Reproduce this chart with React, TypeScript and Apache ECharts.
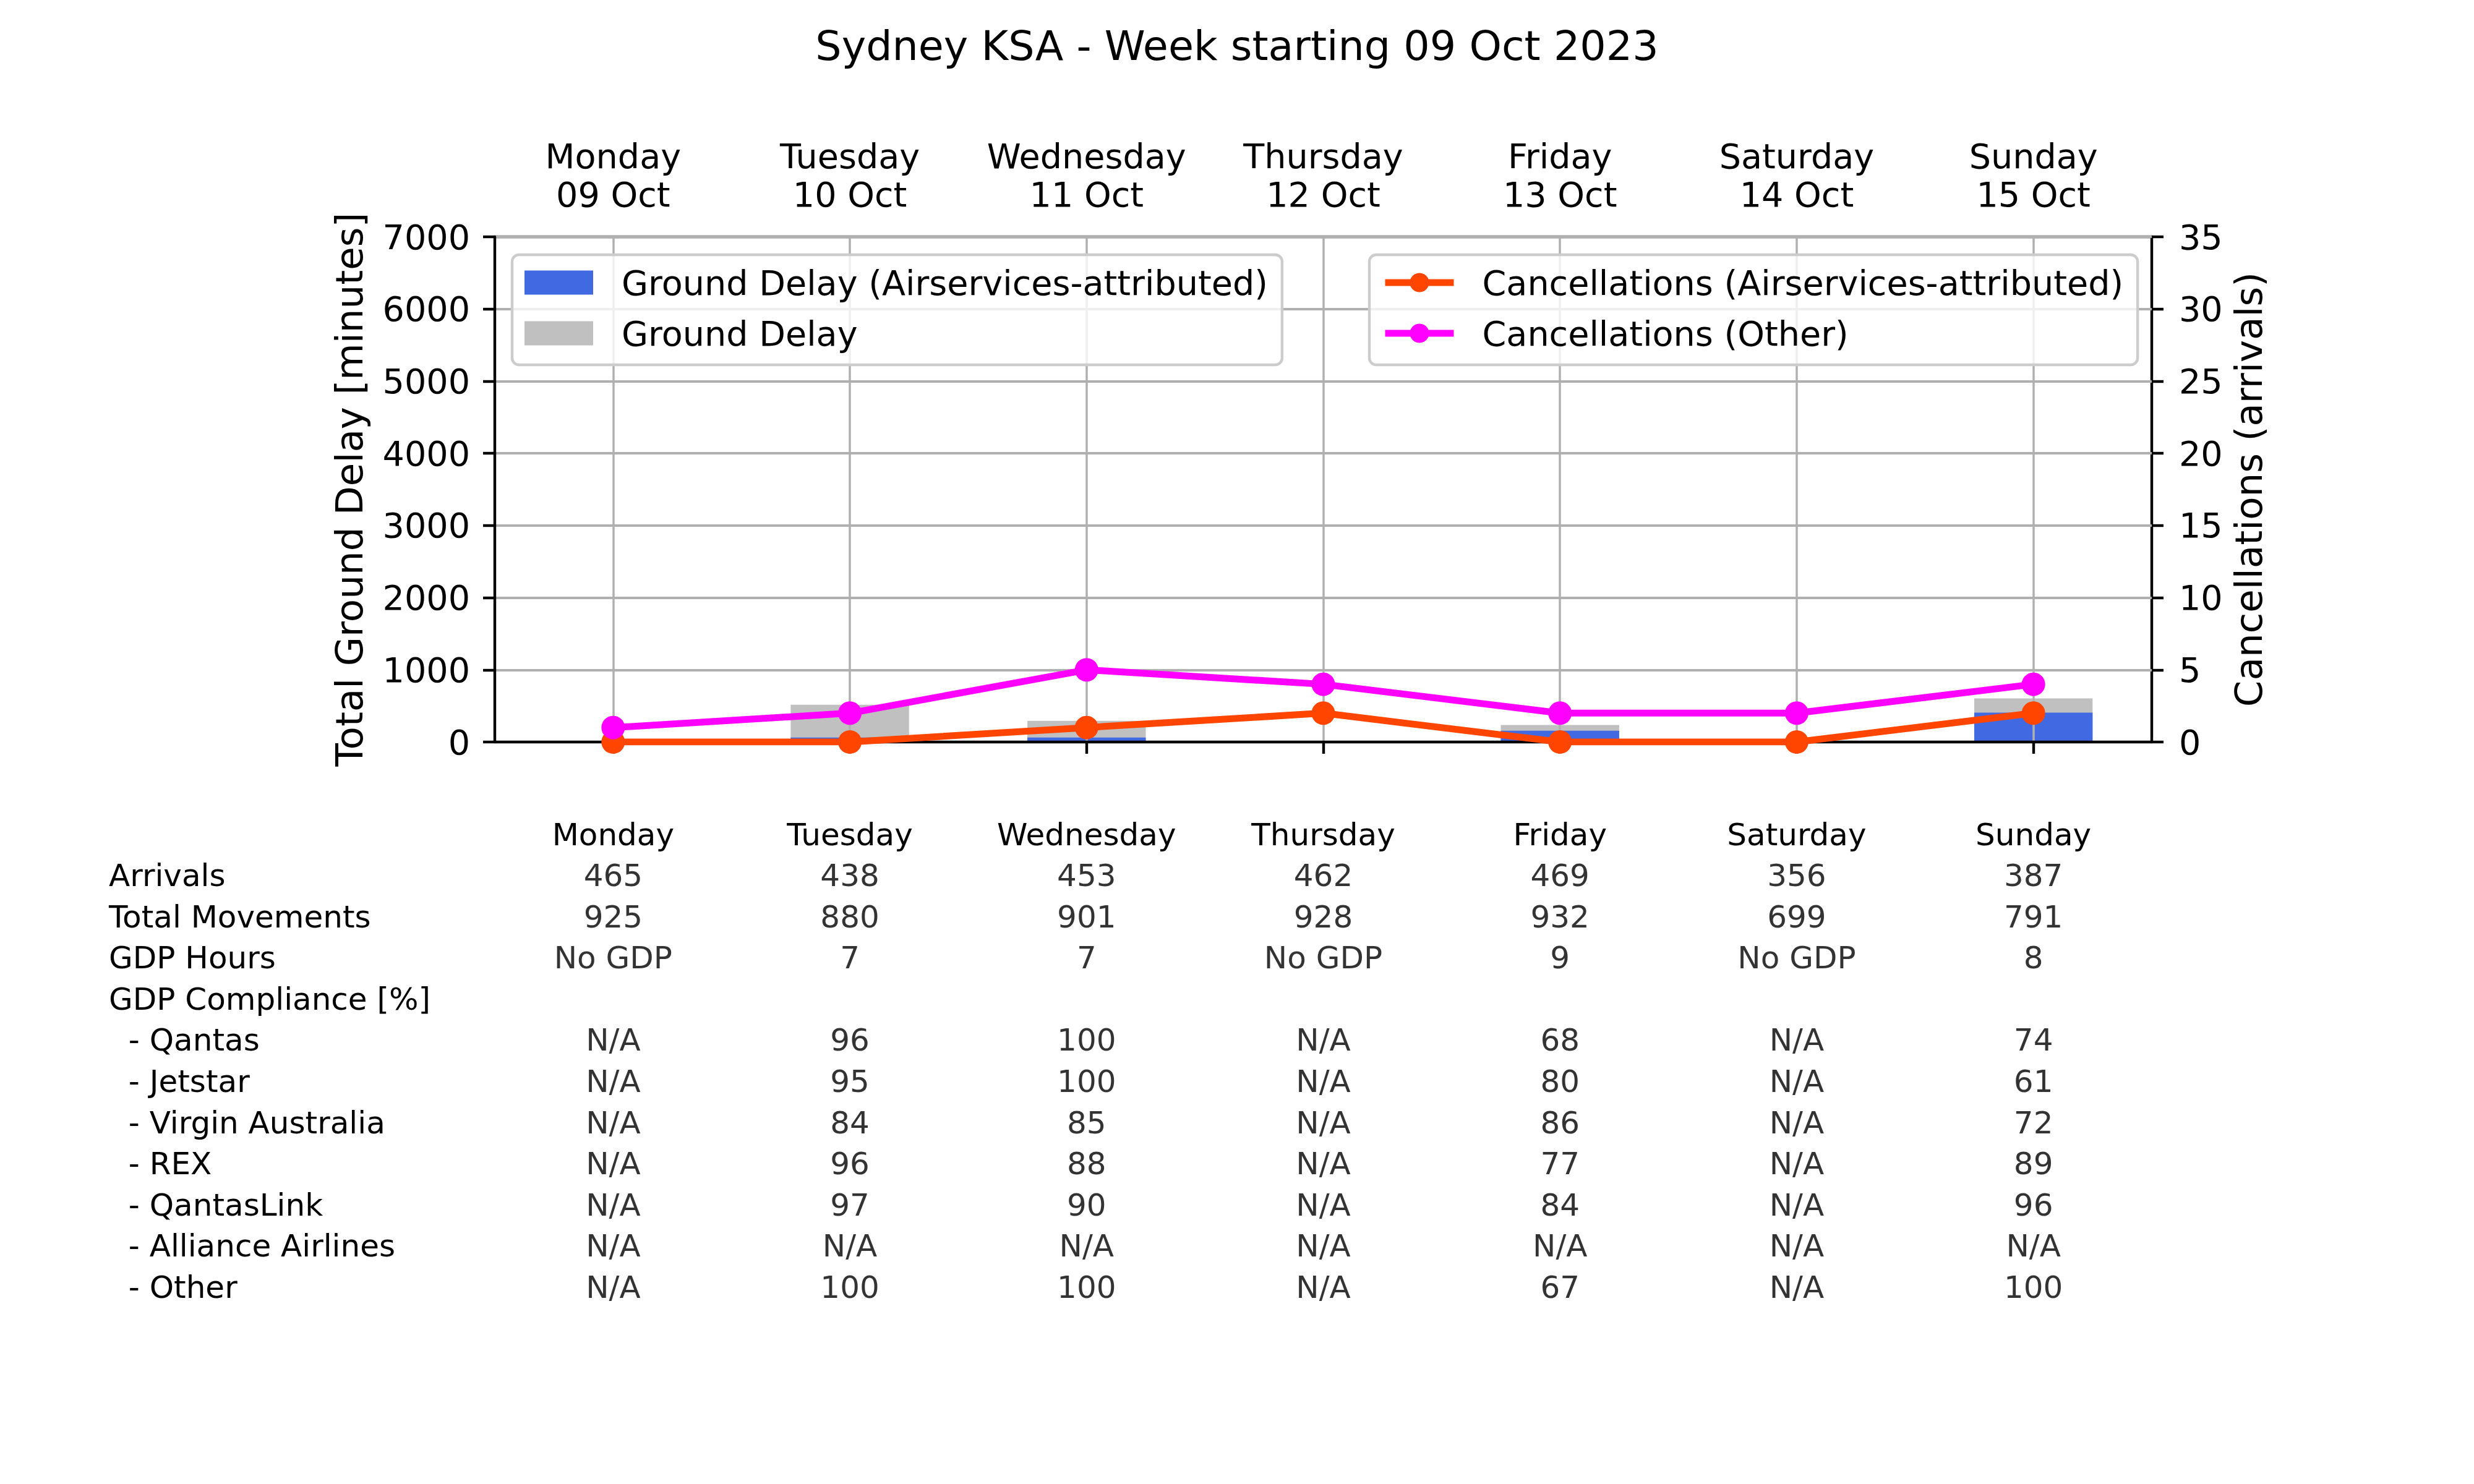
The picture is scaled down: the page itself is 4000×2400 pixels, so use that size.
import React, { useEffect, useRef } from 'react';
import * as echarts from 'echarts';

// week data
const days = ['Monday', 'Tuesday', 'Wednesday', 'Thursday', 'Friday', 'Saturday', 'Sunday'];
const dates = ['09 Oct', '10 Oct', '11 Oct', '12 Oct', '13 Oct', '14 Oct', '15 Oct'];

const groundDelay = [0, 517, 294, 0, 235, 0, 603];
const groundDelayAsa = [0, 63, 63, 0, 157, 0, 408];
const cancelAsa = [0, 0, 1, 2, 0, 0, 2];
const cancelOther = [1, 2, 5, 4, 2, 2, 4];

// table below the chart
const rowLabels = [
  'Arrivals',
  'Total Movements',
  'GDP Hours',
  'GDP Compliance [%]',
  '- Qantas',
  '- Jetstar',
  '- Virgin Australia',
  '- REX',
  '- QantasLink',
  '- Alliance Airlines',
  '- Other',
];
const arrivals = ['465', '438', '453', '462', '469', '356', '387'];
const movements = ['925', '880', '901', '928', '932', '699', '791'];
const gdpHours = ['No GDP', '7', '7', 'No GDP', '9', 'No GDP', '8'];
const compliance: string[] = [];
const qantas = ['N/A', '96', '100', 'N/A', '68', 'N/A', '74'];
const jetstar = ['N/A', '95', '100', 'N/A', '80', 'N/A', '61'];
const virgin = ['N/A', '84', '85', 'N/A', '86', 'N/A', '72'];
const rex = ['N/A', '96', '88', 'N/A', '77', 'N/A', '89'];
const qantasLink = ['N/A', '97', '90', 'N/A', '84', 'N/A', '96'];
const alliance = ['N/A', 'N/A', 'N/A', 'N/A', 'N/A', 'N/A', 'N/A'];
const other = ['N/A', '100', '100', 'N/A', '67', 'N/A', '100'];
const tableValues = [arrivals, movements, gdpHours, compliance, qantas, jetstar, virgin, rex, qantasLink, alliance, other];

const FS = 55.6; // 10pt
const FS_NAME = 61.1; // 11pt
const FS_TABLE = 50;
const FONT = 'DejaVu Sans';

const App: React.FC = () => {
  const chartRef = useRef<HTMLDivElement>(null);

  useEffect(() => {
    const chart = echarts.init(chartRef.current!, undefined, { renderer: 'svg' });

    // one scatter point per table cell, the text goes in its label
    const cells: any[] = [];
    tableValues.forEach((row, r) => {
      row.forEach((v, c) => {
        cells.push({ value: [c, r], name: v });
      });
    });

    const legendBox = {
      orient: 'vertical',
      top: 412,
      itemWidth: 111,
      itemHeight: 39,
      itemGap: 26,
      padding: [17, 23, 23, 20],
      backgroundColor: 'rgba(255,255,255,0.8)',
      borderColor: '#cccccc',
      borderWidth: 4.4,
      borderRadius: 11,
      textStyle: { fontSize: FS, fontFamily: FONT, color: '#000', lineHeight: 56, padding: [0, 0, 0, 41] },
    };

    const options = {
      animation: false,
      textStyle: { fontFamily: FONT },
      title: {
        text: 'Sydney KSA - Week starting 09 Oct 2023',
        left: 'center',
        top: 40,
        padding: 0,
        textStyle: { fontSize: 66.7, fontWeight: 'normal', color: '#000', fontFamily: FONT },
      },
      legend: [
        {
          ...legendBox,
          left: 828,
          icon: 'rect',
          data: ['Ground Delay (Airservices-attributed)', 'Ground Delay'],
        },
        {
          ...legendBox,
          left: 2214,
          lineStyle: { width: 11 },
          data: ['Cancellations (Airservices-attributed)', 'Cancellations (Other)'],
        },
      ],
      grid: [
        { left: 800, right: 521, top: 383, bottom: 1200 },
        { left: 800, right: 521, top: 1383, bottom: 285 },
      ],
      xAxis: [
        {
          type: 'category',
          gridIndex: 0,
          position: 'bottom',
          data: days,
          z: 3,
          axisLine: { show: true, lineStyle: { color: '#000', width: 4.4 } },
          axisTick: { show: true, alignWithLabel: true, length: 19, lineStyle: { color: '#000', width: 4.4 } },
          axisLabel: { show: false },
          splitLine: { show: true, alignWithLabel: true, lineStyle: { color: '#b0b0b0', width: 3.5 } },
        },
        {
          type: 'category',
          gridIndex: 0,
          position: 'top',
          data: days.map((d, i) => d + '\n' + dates[i]),
          axisLine: { show: true, onZero: false, lineStyle: { color: '#000', width: 4.4 } },
          axisTick: { show: false },
          axisLabel: { interval: 0, fontSize: FS, lineHeight: 62, color: '#000', margin: 38, fontFamily: FONT },
          splitLine: { show: false },
        },
        {
          type: 'category',
          gridIndex: 1,
          position: 'top',
          data: days,
          axisLine: { show: false },
          axisTick: { show: false },
          axisLabel: { interval: 0, fontSize: FS_TABLE, color: '#000', margin: 8, fontFamily: FONT },
          splitLine: { show: false },
        },
      ],
      yAxis: [
        {
          type: 'value',
          gridIndex: 0,
          min: 0,
          max: 7000,
          interval: 1000,
          z: 3,
          name: 'Total Ground Delay [minutes]',
          nameLocation: 'middle',
          nameGap: 205,
          nameTextStyle: { fontSize: FS_NAME, color: '#000', fontFamily: FONT },
          axisLine: { show: true, lineStyle: { color: '#000', width: 4.4 } },
          axisTick: { show: true, length: 19, lineStyle: { color: '#000', width: 4.4 } },
          axisLabel: { fontSize: FS, color: '#000', margin: 40, fontFamily: FONT, formatter: (v: number) => String(v) },
          splitLine: { show: true, lineStyle: { color: '#b0b0b0', width: 4 } },
        },
        {
          type: 'value',
          gridIndex: 0,
          position: 'right',
          min: 0,
          max: 35,
          interval: 5,
          name: 'Cancellations (arrivals)',
          nameLocation: 'middle',
          nameGap: 125,
          nameTextStyle: { fontSize: FS_NAME, color: '#000', fontFamily: FONT },
          axisLine: { show: true, lineStyle: { color: '#000', width: 4.4 } },
          axisTick: { show: true, length: 19, lineStyle: { color: '#000', width: 4.4 } },
          axisLabel: { fontSize: FS, color: '#000', margin: 44, fontFamily: FONT, formatter: (v: number) => String(v) },
          splitLine: { show: false },
        },
        {
          type: 'category',
          gridIndex: 1,
          inverse: true,
          data: rowLabels,
          axisLine: { show: false },
          axisTick: { show: false },
          splitLine: { show: false },
          axisLabel: {
            interval: 0,
            fontSize: FS_TABLE,
            color: '#000',
            align: 'left',
            margin: 624,
            fontFamily: FONT,
            formatter: (v: string) => (v.startsWith('- ') ? '\u00a0\u00a0' + v : v),
          },
        },
      ],
      series: [
        {
          name: 'Ground Delay',
          type: 'bar',
          xAxisIndex: 0,
          yAxisIndex: 0,
          data: groundDelay,
          barWidth: '50%',
          barGap: '-100%',
          itemStyle: { color: '#c0c0c0' },
          z: 2,
        },
        {
          name: 'Ground Delay (Airservices-attributed)',
          type: 'bar',
          xAxisIndex: 0,
          yAxisIndex: 0,
          data: groundDelayAsa,
          barWidth: '50%',
          barGap: '-100%',
          itemStyle: { color: '#4169e1' },
          z: 2,
        },
        {
          name: 'Cancellations (Airservices-attributed)',
          type: 'line',
          xAxisIndex: 0,
          yAxisIndex: 1,
          data: cancelAsa,
          symbol: 'circle',
          symbolSize: 38,
          lineStyle: { color: '#ff4500', width: 11 },
          itemStyle: { color: '#ff4500' },
          z: 5,
        },
        {
          name: 'Cancellations (Other)',
          type: 'line',
          xAxisIndex: 0,
          yAxisIndex: 1,
          data: cancelOther,
          symbol: 'circle',
          symbolSize: 38,
          lineStyle: { color: '#ff00ff', width: 11 },
          itemStyle: { color: '#ff00ff' },
          z: 6,
        },
        {
          name: 'table',
          type: 'scatter',
          xAxisIndex: 2,
          yAxisIndex: 2,
          data: cells,
          symbolSize: 2,
          silent: true,
          itemStyle: { color: 'rgba(0,0,0,0)' },
          label: {
            show: true,
            position: 'inside',
            fontSize: FS_TABLE,
            color: '#000',
            textBorderWidth: 0,
            fontFamily: FONT,
            formatter: '{b}',
          },
          labelLayout: { hideOverlap: false },
        },
      ],
    };

    chart.setOption(options as any);

    return () => {
      chart.dispose();
    };
  }, []);

  return (
    <div
      ref={chartRef}
      style={{ position: 'fixed', left: 0, top: 0, width: '4000px', height: '2400px', background: '#fff' }}
    />
  );
};

export default App;
